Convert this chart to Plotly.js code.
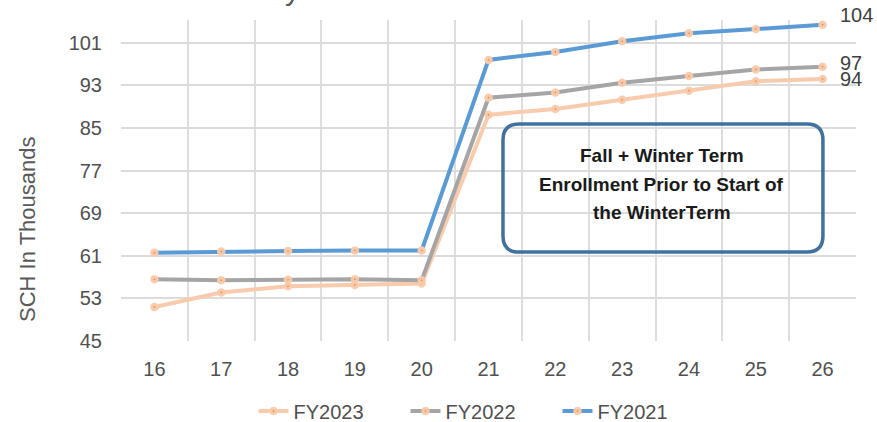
<!DOCTYPE html>
<html>
<head>
<meta charset="utf-8">
<script src="https://cdn.plot.ly/plotly-3.0.1.min.js"></script>
<style>html,body{margin:0;padding:0;background:#fff;}#chart{width:877px;height:422px;}</style>
</head>
<body>
<div id="chart"></div>
<script>
const weeks = ['16','17','18','19','20','21','22','23','24','25','26'];
const fy2023 = [51.4, 54.1, 55.3, 55.5, 55.8, 87.5, 88.6, 90.3, 92.0, 93.8, 94.2];
const fy2022 = [56.6, 56.4, 56.5, 56.6, 56.4, 90.7, 91.7, 93.5, 94.8, 96.0, 96.5];
const fy2021 = [61.6, 61.8, 61.9, 62.0, 62.0, 97.8, 99.3, 101.3, 102.8, 103.6, 104.4];
const seriesNames = ['FY2023', 'FY2022', 'FY2021'];
const yTicks = [45, 53, 61, 69, 77, 85, 93, 101];
const titleText = 'By Week of the Fiscal Year';
const yTitle = 'SCH In Thousands';
const noteLines = ['Fall + Winter Term', 'Enrollment Prior to Start of', 'the WinterTerm'];

const colors = ['#f8cbad', '#a5a5a5', '#5b9bd5'];
const datasets = [fy2023, fy2022, fy2021];
const labelShiftY = [0, 4, 10];

const traces = datasets.map((d, i) => ({
  type: 'scatter',
  mode: 'lines+markers',
  name: seriesNames[i],
  x: weeks,
  y: d,
  cliponaxis: false,
  line: {color: colors[i], width: 4},
  marker: {color: '#ed7d31', size: 5, line: {color: 'rgba(248,203,173,0.95)', width: 3.5}},
  hoverinfo: 'x+y'
}));

// end-of-line value labels, anchored to the last data point (category index)
const lastIdx = weeks.length - 1;
const endLabels = datasets.map((d, i) => ({
  xref: 'x', yref: 'y', x: lastIdx, y: d[d.length-1],
  text: String(Math.round(d[d.length-1])), showarrow: false,
  xanchor: 'left', yanchor: 'middle', xshift: 15, yshift: labelShiftY[i],
  font: {size: 20, color: '#404040'}
}));

const x0 = 0.5197, x1 = 0.955, y0 = 0.277, y1 = 0.676, rx = 0.0218, ry = 0.0498;
const boxPath = `M ${x0+rx},${y1} L ${x1-rx},${y1} Q ${x1},${y1} ${x1},${y1-ry} L ${x1},${y0+ry} Q ${x1},${y0} ${x1-rx},${y0} L ${x0+rx},${y0} Q ${x0},${y0} ${x0},${y0+ry} L ${x0},${y1-ry} Q ${x0},${y1} ${x0+rx},${y1} Z`;

const noteY = [0.579, 0.486, 0.399];
const noteAnns = noteLines.map((t, i) => ({
  xref: 'paper', yref: 'paper', x: 0.736, y: noteY[i], xanchor: 'center', yanchor: 'middle',
  showarrow: false, text: '<b>' + t + '</b>', font: {size: 19, color: '#1a1a1a'}
}));

const yTitleAnn = {
  xref: 'paper', yref: 'paper', x: -0.1265, y: 0.346, xanchor: 'center', yanchor: 'middle',
  showarrow: false, textangle: -90, text: yTitle, font: {size: 22, color: '#595959'}
};

const titleAnn = {
  xref: 'paper', yref: 'paper', x: 0.44, y: 1.0375, xanchor: 'center', yanchor: 'bottom',
  showarrow: false, text: titleText, font: {size: 30, color: '#595959'}
};

const layout = {
  width: 877, height: 422,
  margin: {l: 121, r: 21, t: 20, b: 81},
  paper_bgcolor: '#ffffff', plot_bgcolor: '#ffffff',
  font: {family: 'Liberation Sans, Arial, sans-serif', color: '#505050', size: 20},
  showlegend: true,
  legend: {orientation: 'h', xref: 'container', yref: 'container', x: 0.549, xanchor: 'center', y: 0.026, yanchor: 'middle', font: {size: 20, color: '#505050'}, entrywidth: 107, entrywidthmode: 'pixels', traceorder: 'normal'},
  xaxis: {type: 'category', range: [-0.5, 10.5], autorange: false, tickson: 'boundaries', showgrid: true, gridcolor: '#dedede', gridwidth: 2, showline: false, zeroline: false, ticks: '', ticklabelstandoff: 14, tickfont: {size: 20, color: '#505050'}},
  yaxis: {range: [45, 105.3], autorange: false, tickvals: yTicks, showgrid: true, gridcolor: '#dcdcdc', gridwidth: 2, zeroline: false, showline: false, ticks: '', ticklabelstandoff: 18, tickfont: {size: 20, color: '#505050'}},
  shapes: [{type: 'path', xref: 'paper', yref: 'paper', path: boxPath, line: {color: '#41719c', width: 3.5}, fillcolor: 'rgba(0,0,0,0)', layer: 'above'}],
  annotations: endLabels.concat(noteAnns, [yTitleAnn, titleAnn])
};

Plotly.newPlot('chart', traces, layout, {displayModeBar: false, staticPlot: true});
</script>
</body>
</html>
